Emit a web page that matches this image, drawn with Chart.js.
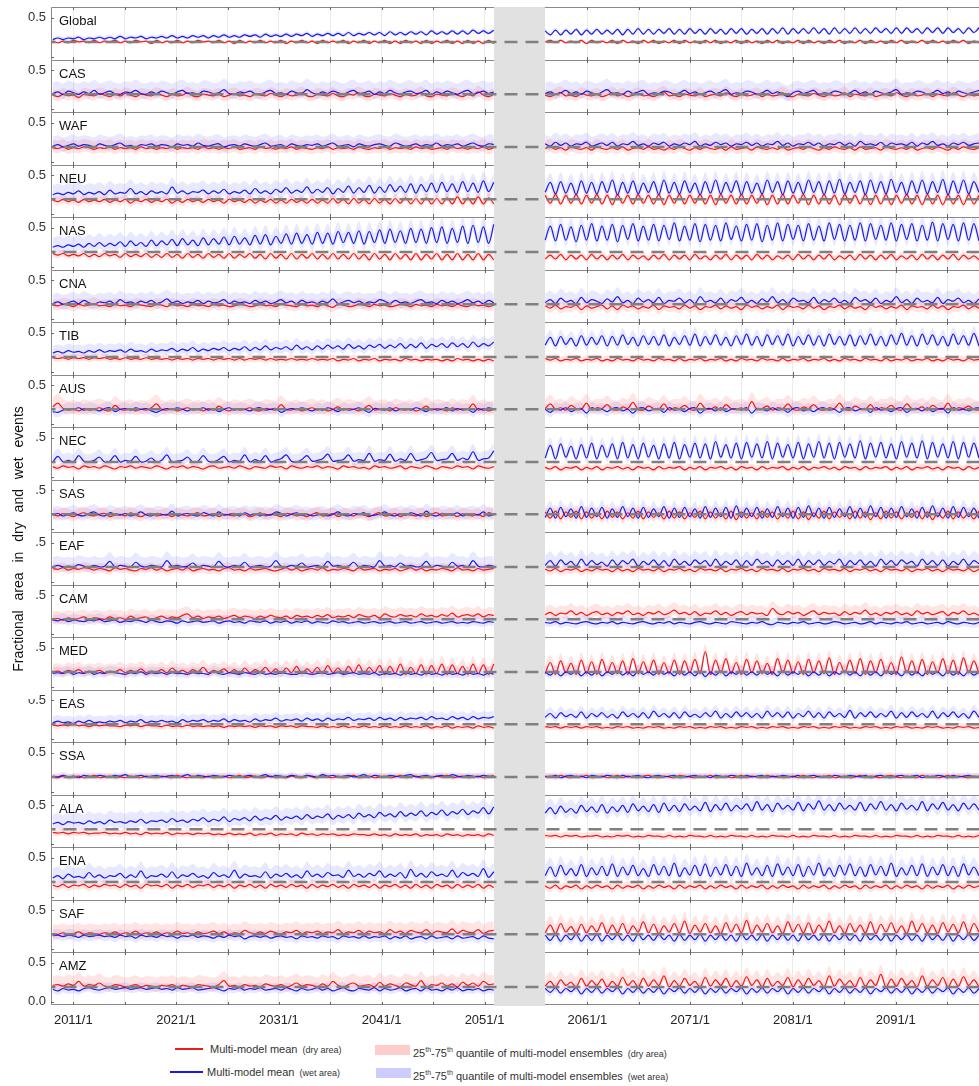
<!DOCTYPE html>
<html>
<head>
<meta charset="utf-8">
<script src="https://cdn.jsdelivr.net/npm/chart.js@4.4.1/dist/chart.umd.min.js"></script>
<style>
  body { margin: 0; background: #fff; width: 979px; height: 1086px; overflow: hidden; position: relative;
         font-family: 'Liberation Sans', Arial, Helvetica, sans-serif; color: #222; }
  .panel { position: absolute; left: 0; width: 979px; }
  .panel canvas { display: block; }
  .name { position: absolute; left: 59px; font-size: 13px; line-height: 15px; color: #111; }
  #ymask { position: absolute; left: 8px; top: 420px; width: 27px; height: 279px; background: #fff; }
  #ytitle { position: absolute; left: 18px; top: 539px; transform: translate(-50%, -50%) rotate(-90deg);
            white-space: nowrap; font-size: 14px; word-spacing: 6px; color: #111; }
  .lg { position: absolute; font-size: 11px; line-height: 13px; color: #333; white-space: nowrap; }
  .lg small { font-size: 9px; margin-left: 5px; }
  .lg sup { font-size: 7px; }
  .swl { position: absolute; height: 2px; }
  .swb { position: absolute; width: 35px; height: 10px; }
</style>
</head>
<body>
<div id="wrap"></div>
<div id="ymask"></div>
<div id="ytitle">Fractional area in dry and wet events</div>

<div class="swl" style="left:175px;top:1048px;width:28px;background:#f01818"></div>
<div class="lg" style="left:210px;top:1043px">Multi-model mean<small>(dry area)</small></div>
<div class="swb" style="left:375px;top:1045px;background:rgba(255,110,110,0.35)"></div>
<div class="lg" style="left:413px;top:1043px">25<sup>th</sup>-75<sup>th</sup> quantile of multi-model ensembles<small>(dry area)</small></div>

<div class="swl" style="left:170px;top:1071px;width:33px;background:#1a1ae6"></div>
<div class="lg" style="left:207px;top:1066px">Multi-model mean<small>(wet area)</small></div>
<div class="swb" style="left:376px;top:1068px;background:rgba(110,110,255,0.35)"></div>
<div class="lg" style="left:413px;top:1066px">25<sup>th</sup>-75<sup>th</sup> quantile of multi-model ensembles<small>(wet area)</small></div>

<script>
// values are fractional area in hundredths
// *_E: 2009-2051 segment, *_L: 2057-2099 segment (about two samples per year)
const REGIONS = ['Global','CAS','WAF','NEU','NAS','CNA','TIB','AUS','NEC','SAS','EAF','CAM','MED','EAS','SSA','ALA','ENA','SAF','AMZ'];

const X_TICKS = [2011,2016,2021,2026,2031,2036,2041,2046,2051,2056,2061,2066,2071,2076,2081,2086,2091,2096];
const X_LABELS = ['2011/1','','2021/1','','2031/1','','2041/1','','2051/1','','2061/1','','2071/1','','2081/1','','2091/1',''];
const Y_TICKS = [0, 0.5];

const EARLY_START = 2009.0, EARLY_END = 2051.9;
const LATE_START = 2056.9, LATE_END = 2099.1;
const GAP_START = 2051.92, GAP_END = 2056.88;
const DASH_LEVEL = 0.19;

const GLOBAL_DRY_E = [20,18,20,18,21,19,20,18,21,18,20,19,21,18,20,18,21,19,20,17,21,18,20,18,21,18,20,18,21,19,20,18,21,18,20,17,21,18,20,18,21,18,20,18,21,17,20,18,21,18,20,17,21,18,20,18,21,17,20,18,21,17,20,18,21,17,20,17,21,18,20,17,21,17,20,18,21,17,20,17,21,17,20,17,21,17];
const GLOBAL_WET_E = [22,24,22,24,23,25,22,24,23,25,23,25,23,26,23,25,24,26,23,25,24,26,24,27,24,26,24,27,25,27,24,27,25,28,25,27,25,28,26,28,25,29,26,28,26,29,26,29,27,30,26,29,27,30,27,30,27,31,27,30,28,31,28,31,27,32,28,31,28,32,29,32,28,33,29,32,29,33,29,33,29,34,30,33,30,34];
const GLOBAL_DRY_L = [19,21,18,21,18,20,18,21,17,21,18,20,18,21,17,21,18,20,17,21,18,21,17,20,18,21,17,21,18,20,17,21,18,21,17,20,18,21,17,21,18,20,17,21,18,21,17,20,18,21,17,21,18,20,17,21,18,21,17,20,18,21,17,21,18,20,17,21,18,21,17,20,18,21,17,21,18,20,17,21,18,21,17,20,18];
const GLOBAL_WET_L = [33,28,34,28,34,29,35,28,34,29,35,29,34,29,35,28,35,29,36,29,35,29,35,30,36,29,35,29,36,30,35,29,36,30,35,29,36,30,36,29,35,30,36,29,36,30,37,29,36,30,36,30,37,30,36,29,37,30,36,30,37,30,36,30,37,31,36,30,37,30,37,31,36,30,37,31,37,30,37,31,36,30,37,31,37];

const CAS_DRY_E = [18,16,19,17,18,15,19,18,17,20,18,16,19,17,20,18,16,19,18,17,20,18,16,19,17,18,21,17,16,19,18,17,19,16,18,20,17,18,16,19,18,17,20,18,16,19,17,18,21,17,16,19,18,17,20,17,16,19,18,21,17,16,19,18,17,20,18,16,19,17,18,21,17,16,19,18,17,20,18,16,19,17,22,18,16,19];
const CAS_WET_E = [20,22,19,23,21,19,22,20,24,19,21,23,20,19,22,21,24,20,19,22,20,23,21,19,22,24,20,21,19,23,22,20,21,25,20,19,22,21,23,20,19,22,24,20,21,19,23,21,20,25,21,19,22,20,23,21,19,22,24,20,21,23,19,22,20,24,21,19,22,23,20,21,24,19,22,20,23,21,19,22,24,20,21,23,20,22];
const CAS_DRY_L = [18,16,19,21,17,18,16,20,18,17,19,16,18,21,17,19,16,18,20,17,18,16,19,22,17,18,16,19,18,17,20,16,18,19,17,21,18,16,19,17,18,20,16,19,17,18,21,17,16,19,18,17,20,18,16,19,17,18,21,16,19,18,17,20,16,18,19,17,21,18,16,19,17,18,20,16,19,18,17,21,18,16,19,17,18];
const CAS_WET_L = [20,22,19,21,24,20,22,19,23,21,19,22,25,20,21,19,23,20,22,24,19,21,20,23,22,19,21,24,20,22,19,21,23,20,22,25,19,21,20,23,22,19,21,24,20,22,19,16,21,23,20,22,24,19,21,20,23,22,19,21,24,20,22,19,23,21,20,22,25,19,21,20,23,22,19,21,24,20,22,19,23,21,20,22,24];

const WAF_DRY_E = [18,17,19,16,18,17,19,18,16,18,17,19,16,18,17,18,16,19,17,18,16,18,17,19,16,18,17,18,16,19,17,18,16,18,17,19,16,17,18,16,19,17,18,16,18,17,19,16,18,17,16,18,17,19,16,18,17,18,16,19,17,16,18,17,19,16,18,17,18,16,19,17,18,16,17,18,16,19,17,18,16,18,17,19,16,18];
const WAF_WET_E = [20,22,19,21,23,20,22,21,19,23,21,20,22,24,20,21,19,22,21,23,20,22,21,19,23,21,22,20,24,21,20,22,23,19,21,22,20,23,21,20,22,24,20,21,22,19,23,21,20,22,21,23,20,22,24,20,21,22,19,23,21,20,22,23,21,20,24,22,20,21,23,20,22,21,24,20,22,21,23,20,22,24,21,20,23,22];
const WAF_DRY_L = [17,19,16,18,15,19,17,16,18,15,19,17,16,18,16,19,15,17,18,16,19,16,17,15,18,16,19,17,15,18,16,19,17,16,18,15,19,16,17,18,15,19,17,16,18,16,19,15,17,18,16,19,17,15,18,16,19,17,16,18,15,19,16,17,18,15,19,17,16,18,16,19,15,17,18,16,19,17,15,18,16,19,17,16,18];
const WAF_WET_L = [23,20,25,21,24,20,23,22,25,20,22,24,21,25,20,23,22,26,21,23,20,24,22,25,20,23,21,24,22,26,20,23,21,25,22,24,20,23,22,25,21,24,20,23,22,26,21,24,20,23,22,25,21,24,20,23,22,25,21,24,20,26,22,23,21,25,20,24,22,23,21,25,20,24,22,26,21,23,20,24,22,25,21,23,24];

const NEU_DRY_E = [18,16,19,16,18,15,19,16,18,16,19,15,18,16,19,14,18,16,19,15,18,16,19,14,18,15,19,16,18,15,19,16,18,14,19,16,18,15,19,14,18,15,19,14,18,14,19,15,18,14,19,14,18,14,20,14,19,13,20,14,19,13,20,14,19,13,20,14,21,13,20,13,21,13,20,13,21,13,22,13,21,13,22,13,21,13];
const NEU_WET_E = [25,27,25,28,26,30,25,28,26,29,25,31,26,28,27,33,26,29,25,30,27,29,26,35,27,30,26,29,28,31,26,30,27,32,26,29,27,31,26,33,27,30,26,32,28,34,27,31,28,35,27,32,28,34,26,33,28,36,27,34,28,37,27,35,28,38,29,36,28,39,27,38,29,40,28,41,29,39,28,42,29,40,28,43,29,41];
const NEU_DRY_L = [24,14,25,13,24,14,25,13,24,14,25,13,24,12,25,14,24,13,25,14,24,13,25,12,24,14,25,13,24,14,25,13,24,12,25,14,24,13,25,13,24,14,25,12,24,13,25,13,24,14,25,12,24,13,25,13,24,12,25,14,24,13,25,12,24,13,25,12,24,14,25,13,24,12,25,13,24,12,25,13,24,12,25,13,24];
const NEU_WET_L = [28,41,26,42,27,40,25,43,27,41,26,42,28,44,25,41,27,43,26,40,28,42,25,44,27,41,26,43,28,40,25,42,27,44,26,41,28,43,25,42,27,40,26,44,28,42,25,43,27,41,26,44,28,42,25,43,27,45,26,41,28,43,25,44,27,42,26,45,28,41,25,43,27,44,26,42,28,45,25,43,27,44,26,42,28];

const NAS_DRY_E = [17,15,17,14,16,14,17,13,16,13,17,14,16,12,17,13,16,13,17,12,16,12,17,12,16,11,17,12,16,11,17,12,16,11,17,11,16,12,17,11,16,10,17,11,16,10,17,10,16,11,17,10,16,10,17,10,16,10,17,10,16,9,17,10,16,9,17,10,16,9,17,9,16,10,17,9,16,9,17,9,16,9,17,9,16,9];
const NAS_WET_E = [25,27,25,28,26,29,25,30,26,31,26,30,27,32,26,33,27,31,26,34,27,33,28,35,27,36,28,34,27,37,28,36,29,38,28,39,29,37,28,40,29,41,28,39,30,42,29,43,30,41,29,44,30,43,29,45,31,44,30,46,29,45,31,47,30,48,31,46,30,49,31,48,30,50,31,51,30,49,31,52,30,53,31,51,30,54];
const NAS_DRY_L = [10,15,10,16,9,15,10,15,9,16,10,15,9,15,10,16,9,15,10,14,9,15,10,16,9,15,10,15,9,16,10,14,9,15,10,16,9,15,10,15,9,16,10,15,9,14,10,15,9,16,10,15,9,15,10,16,9,14,10,15,9,16,10,15,9,15,10,16,9,14,10,15,9,16,10,15,9,15,10,16,9,15,10,14,9];
const NAS_WET_L = [34,52,33,54,34,51,32,53,34,55,33,52,34,54,32,53,35,55,33,52,34,54,33,53,35,56,33,52,34,55,32,54,34,53,33,56,35,52,33,54,34,55,32,53,34,56,33,54,35,53,33,55,34,52,33,56,35,54,33,53,34,56,33,55,35,53,34,56,33,54,35,55,33,53,34,57,33,55,35,54,33,56,34,55,33];

const CNA_DRY_E = [18,17,19,18,16,19,17,18,20,17,18,16,19,17,18,16,19,18,17,16,19,18,16,19,17,18,16,19,17,18,16,19,17,18,16,17,19,18,16,17,19,17,18,16,19,18,17,16,19,17,18,16,19,17,15,19,18,16,17,19,18,16,19,17,18,16,17,19,18,16,19,17,18,16,19,17,18,16,19,17,16,19,17,18,16,18];
const CNA_WET_E = [20,22,19,21,23,20,24,21,19,22,21,23,20,25,21,22,20,23,21,24,20,22,26,21,23,20,22,21,24,20,23,21,22,25,20,23,21,22,20,24,21,23,20,22,25,21,23,20,24,21,22,20,23,21,26,20,22,24,21,23,20,22,21,25,23,20,24,21,22,20,23,25,21,22,20,24,21,23,20,22,25,21,23,20,24,21];
const CNA_DRY_L = [17,14,18,13,16,15,18,12,17,14,16,18,13,17,12,18,15,17,13,16,14,18,12,17,15,16,13,18,14,17,12,16,15,18,13,17,14,16,12,18,15,17,13,16,14,18,12,17,15,16,13,18,14,17,12,16,15,18,13,17,14,16,12,18,15,17,13,16,14,18,12,17,15,16,13,18,14,17,12,16,15,18,13,17,14];
const CNA_WET_L = [21,25,20,27,22,24,20,28,21,25,23,20,26,22,29,21,24,20,27,22,25,21,28,20,24,23,27,21,25,20,29,22,24,21,27,20,25,23,28,21,24,20,26,22,29,21,25,20,27,23,24,21,28,20,25,22,27,21,24,20,28,23,25,21,27,20,24,22,29,21,25,20,27,22,24,21,28,20,25,23,27,21,24,20,26];

const TIB_DRY_E = [18,17,18,16,18,17,18,16,18,17,18,16,17,16,18,16,17,16,18,16,17,16,17,15,17,16,17,15,17,16,17,15,17,16,17,15,17,15,17,16,17,15,17,15,16,15,17,15,16,15,17,15,16,15,17,14,16,15,17,14,16,15,17,14,16,15,16,14,17,15,16,14,16,15,16,14,16,14,17,15,16,14,16,14,16,14];
const TIB_WET_E = [24,26,24,27,25,26,24,27,25,28,25,27,26,28,25,29,26,27,25,29,26,28,27,30,26,29,27,31,26,29,27,30,28,31,27,30,28,32,27,31,28,33,28,31,29,32,28,34,29,32,28,33,29,34,30,33,29,35,30,33,29,34,31,35,30,34,31,36,30,35,31,37,30,35,32,36,31,37,32,36,31,38,32,36,33,38];
const TIB_DRY_L = [17,15,17,14,16,15,17,14,16,15,17,14,16,14,17,15,16,14,17,15,16,14,17,15,16,14,17,14,16,15,17,14,16,15,17,14,16,14,17,15,16,14,17,15,16,14,17,14,16,15,17,14,16,15,17,14,16,14,17,15,16,14,17,15,16,14,17,14,16,15,17,14,16,15,17,14,16,14,17,15,16,14,17,15,16];
const TIB_WET_L = [34,44,33,45,35,43,33,46,34,44,35,46,33,45,34,47,35,44,33,46,35,45,34,47,33,44,35,46,34,48,33,45,35,47,34,44,33,46,35,48,34,45,33,47,35,46,34,48,33,45,35,47,34,46,33,48,35,45,34,47,33,46,35,48,34,45,33,47,35,49,34,46,33,48,35,47,34,45,33,48,35,46,34,49,33];

const AUS_DRY_E = [22,27,20,18,19,17,20,18,19,21,18,17,24,19,18,20,17,19,18,21,26,19,18,20,17,19,21,18,19,17,20,18,23,19,17,20,18,19,21,18,17,20,19,18,25,19,18,20,17,19,21,18,20,17,19,22,18,20,19,17,20,24,18,19,20,17,21,19,18,20,17,19,23,18,20,19,17,21,18,20,19,26,18,20,17,19];
const AUS_WET_E = [16,15,18,20,19,21,18,20,19,17,20,21,16,19,20,18,21,19,20,17,15,18,20,19,21,19,17,20,19,21,18,20,16,19,21,18,20,19,17,20,21,18,19,20,15,18,20,19,21,19,17,20,18,21,19,16,20,18,19,21,18,15,20,19,18,21,17,19,20,18,21,19,16,20,18,19,21,17,20,18,19,15,20,18,21,19];
const AUS_DRY_L = [20,26,19,21,18,24,20,19,27,18,21,20,25,19,18,22,20,28,19,18,23,20,19,26,18,21,20,24,19,18,27,20,19,22,18,25,20,19,21,18,29,19,20,23,18,21,20,26,19,18,22,20,25,19,18,21,20,27,19,18,23,20,19,25,18,21,20,24,19,18,26,20,19,22,18,24,20,19,27,18,21,20,23,19,18];
const AUS_WET_L = [19,15,20,18,21,16,19,20,14,21,18,19,16,20,21,17,19,14,20,21,17,19,20,15,21,18,19,16,20,21,14,19,20,17,21,16,19,20,18,21,14,20,19,17,21,18,19,15,20,21,17,19,16,20,21,18,19,15,20,21,17,19,20,15,21,18,19,16,20,21,15,19,20,17,21,16,19,20,14,21,18,19,17,20,21];

const NEC_DRY_E = [13,11,14,12,13,10,14,12,13,11,14,12,10,13,12,14,11,13,12,11,14,12,10,13,12,14,11,13,12,10,13,14,11,12,13,11,14,12,10,13,12,11,14,12,13,10,14,12,11,13,12,14,11,13,12,10,14,12,13,11,12,10,14,12,13,11,12,14,10,13,12,11,14,12,10,13,12,11,14,12,13,10,14,12,11,13];
const NEC_WET_E = [19,26,19,21,19,27,20,19,21,25,19,20,27,19,21,20,26,19,20,24,19,21,28,19,20,21,25,19,20,27,20,19,22,26,19,21,20,28,19,22,20,27,19,21,23,28,20,19,22,27,20,21,23,29,20,21,22,28,20,22,21,30,20,22,21,29,20,23,21,30,21,22,24,31,21,22,23,30,21,24,22,32,21,23,24,33];
const NEC_DRY_L = [12,10,13,9,12,11,13,9,12,10,13,9,12,11,13,10,12,9,13,11,12,9,13,10,12,11,13,9,12,10,13,9,12,11,13,10,12,9,13,11,12,9,13,10,12,11,13,9,12,10,13,9,12,11,13,10,12,9,13,11,12,9,13,10,12,11,13,9,12,10,13,9,12,11,13,10,12,9,13,11,12,9,13,10,12];
const NEC_WET_L = [24,40,23,42,25,39,23,41,24,43,23,40,25,42,23,44,24,41,23,43,25,40,23,42,24,44,23,41,25,43,24,42,23,45,25,41,24,43,23,44,25,42,24,45,23,43,25,41,24,44,23,42,25,45,24,43,23,44,25,42,24,46,23,43,25,44,24,42,23,45,25,43,24,46,23,44,25,42,24,45,23,44,25,43,24];

const SAS_DRY_E = [19,17,20,18,16,19,21,18,17,19,20,16,18,19,17,21,18,16,19,20,17,18,19,16,20,18,17,19,21,17,18,20,16,19,18,17,20,19,16,18,21,17,19,18,16,20,19,17,18,16,19,21,17,18,20,16,19,18,17,20,18,16,19,21,17,18,20,16,19,18,17,20,16,19,21,17,18,19,16,20,18,17,19,16,21,18];
const SAS_WET_E = [18,20,17,19,21,18,17,20,22,18,17,21,19,18,20,17,19,22,18,17,20,19,18,23,17,19,20,18,17,21,19,17,22,18,19,20,17,21,18,20,17,19,18,22,20,17,19,21,18,19,17,18,20,17,19,22,18,17,20,19,21,17,18,19,22,18,17,20,18,21,19,17,23,18,17,20,19,18,21,17,19,20,18,22,17,19];
const SAS_DRY_L = [22,14,23,13,22,15,23,13,22,14,21,13,23,15,22,13,21,14,23,13,22,15,21,13,23,14,22,13,21,15,23,13,22,14,21,13,23,12,22,14,21,13,23,15,22,13,21,14,23,13,22,12,21,14,23,13,22,15,21,13,23,14,22,12,21,13,23,14,22,13,21,15,23,13,22,12,21,14,23,13,22,14,21,13,23];
const SAS_WET_L = [15,27,14,28,16,26,14,29,15,27,16,28,14,26,15,29,16,27,14,28,15,26,16,29,14,27,15,28,16,26,14,29,15,27,16,28,14,30,15,27,16,28,14,26,15,29,16,27,14,28,15,30,16,27,14,28,15,26,16,29,14,27,15,30,16,28,14,27,15,29,16,26,14,28,15,30,16,27,14,29,15,28,16,27,14];

const EAF_DRY_E = [17,16,18,15,17,16,18,17,15,17,16,14,18,16,17,15,14,17,16,18,15,17,14,16,17,15,18,14,16,17,15,16,14,17,18,15,16,14,17,15,16,17,15,14,16,18,15,17,14,16,17,15,18,14,16,15,17,16,14,18,15,16,17,14,16,15,17,14,16,18,15,17,14,16,15,17,16,14,18,15,16,14,17,15,16,17];
const EAF_WET_E = [19,21,19,20,19,22,20,19,21,19,20,26,19,21,20,19,25,20,19,21,20,19,27,20,21,19,20,24,19,21,20,19,26,20,19,21,20,25,19,20,21,19,20,27,20,19,21,20,24,19,20,21,19,26,20,21,19,20,25,19,21,20,19,27,20,21,19,24,20,21,19,20,26,19,21,20,19,25,20,21,19,27,20,19,21,20];
const EAF_DRY_L = [16,14,17,13,16,15,17,13,16,14,17,15,16,13,17,14,16,13,17,15,16,14,17,13,16,15,17,14,16,13,17,15,16,14,17,13,16,15,17,14,16,13,17,15,16,14,17,13,16,15,17,14,16,13,17,15,16,14,17,13,16,15,17,14,16,13,17,15,16,14,17,13,16,15,17,14,16,13,17,15,16,14,17,13,16];
const EAF_WET_L = [21,27,20,28,22,26,20,29,21,27,22,25,20,28,21,27,23,29,20,26,22,28,21,27,20,29,22,26,21,28,23,27,20,29,21,26,22,28,20,27,21,29,23,26,20,28,22,27,21,29,20,27,22,28,21,26,23,29,20,27,22,28,21,26,20,29,22,27,21,28,23,26,20,29,22,27,21,28,20,26,22,29,21,27,23];

const CAM_DRY_E = [19,20,18,21,19,20,22,19,21,20,19,22,20,21,19,23,20,21,22,19,21,23,20,22,21,24,26,21,23,20,22,21,23,20,22,24,21,23,22,20,23,21,24,22,21,23,20,24,22,23,21,24,22,25,21,23,22,24,21,25,23,22,24,21,26,23,22,25,23,24,22,26,23,24,22,25,23,27,22,24,25,23,26,22,25,24];
const CAM_WET_E = [18,17,19,16,18,17,16,18,17,19,16,17,18,15,17,16,18,17,15,18,16,15,17,16,14,17,15,16,17,15,16,17,14,16,17,15,16,14,17,16,15,17,14,16,15,17,14,16,15,17,14,16,15,14,17,15,16,14,15,16,14,15,16,14,15,16,14,15,16,14,15,16,14,15,16,14,15,16,14,15,14,16,15,14,16,15];
const CAM_DRY_L = [25,28,24,27,26,30,25,28,24,27,29,25,27,24,28,26,30,25,27,24,28,26,29,25,27,31,26,28,25,29,24,27,26,30,25,28,24,27,29,25,28,26,27,24,33,27,25,29,26,28,24,27,30,25,28,26,27,24,29,25,28,26,31,25,27,24,28,26,29,25,27,24,30,26,28,25,27,29,24,28,26,30,25,27,24];
const CAM_WET_L = [15,14,16,13,15,14,13,15,16,14,13,15,14,16,13,15,14,13,15,16,14,13,15,14,16,13,15,14,13,15,16,14,13,15,14,13,16,15,14,13,15,14,16,13,12,15,14,13,15,14,16,13,14,15,13,14,16,15,13,14,15,13,14,16,13,15,14,13,15,14,16,13,14,15,13,14,15,13,16,14,13,15,14,13,15];

const MED_DRY_E = [19,20,18,21,19,22,18,20,19,21,18,20,19,22,18,21,19,23,18,20,19,22,18,24,19,21,18,22,19,25,18,21,19,23,18,22,17,24,18,22,19,25,18,23,17,24,18,26,17,23,18,25,17,27,18,24,17,26,18,28,17,25,18,27,16,26,17,29,16,25,17,28,16,27,17,29,16,28,17,26,16,29,17,28,16,29];
const MED_WET_E = [17,18,17,19,16,18,17,19,16,18,17,19,18,17,16,18,17,19,16,18,17,18,16,18,17,17,16,18,17,17,16,19,17,16,18,17,16,18,17,16,18,16,17,16,18,17,16,16,18,17,16,17,18,16,17,18,16,17,18,16,17,16,18,15,17,16,17,15,18,16,17,15,18,16,17,15,18,16,17,15,18,16,17,15,18,16];
const MED_DRY_L = [17,31,16,33,18,30,16,34,17,32,16,35,18,31,17,33,16,36,17,32,18,34,16,31,17,34,16,33,18,35,17,45,16,34,18,36,17,31,16,35,18,33,17,30,16,36,18,34,17,32,16,35,18,33,17,37,16,31,18,34,17,36,16,33,18,35,17,31,16,38,18,33,17,35,16,32,18,36,17,34,16,37,18,33,17];
const MED_WET_L = [19,15,20,14,19,16,20,14,19,15,20,14,19,16,20,15,19,14,20,16,19,15,20,16,19,14,20,15,19,14,20,13,19,15,20,14,19,16,20,15,19,15,20,16,19,14,20,15,19,16,20,14,19,15,20,14,19,16,20,15,19,14,20,15,19,14,20,16,19,14,20,15,19,14,20,16,19,14,20,15,19,14,20,15,19];

const EAS_DRY_E = [18,17,18,17,19,17,18,16,18,17,18,17,17,16,18,17,18,16,18,17,17,16,18,16,17,16,18,16,17,16,17,16,17,15,17,16,17,16,17,15,17,16,17,15,17,16,17,15,17,16,16,15,17,15,16,15,17,15,16,15,17,15,16,15,17,15,16,15,17,15,16,15,17,14,16,15,17,14,16,15,16,14,17,15,16,14];
const EAS_WET_E = [21,23,21,22,20,23,21,24,21,22,21,23,22,24,21,23,22,25,21,23,22,24,22,23,21,25,22,24,23,25,22,24,23,26,22,25,23,24,22,26,23,25,24,27,23,25,24,26,23,27,24,26,23,27,24,26,25,28,24,26,25,27,24,28,25,27,24,28,25,27,26,28,25,29,26,27,25,29,26,28,25,29,26,28,27,29];
const EAS_DRY_L = [16,15,16,14,16,15,16,14,16,15,16,14,15,14,16,15,16,14,15,14,16,15,16,14,15,14,16,15,16,14,15,14,16,15,16,14,15,14,16,15,16,14,15,14,16,15,16,14,15,14,16,15,16,14,15,14,16,15,16,14,15,14,16,15,16,14,15,14,16,15,16,14,15,14,16,15,16,14,15,14,16,15,16,14,15];
const EAS_WET_L = [28,33,27,34,29,32,28,35,27,33,29,34,28,32,27,35,29,33,28,34,27,36,29,33,28,34,27,35,29,32,28,34,29,36,27,33,28,35,29,34,28,33,27,36,29,34,28,35,27,33,29,36,28,34,27,35,29,33,28,37,27,34,29,35,28,33,29,36,27,34,28,35,29,33,28,36,27,34,29,35,28,33,27,36,28];

const SSA_DRY_E = [19,18,20,18,19,20,18,19,21,18,19,20,18,19,18,20,19,18,20,19,18,20,19,18,21,19,18,20,19,18,20,18,19,20,18,19,21,18,19,20,18,19,20,18,19,18,20,19,18,21,19,18,20,19,18,20,18,19,21,18,19,20,18,19,20,18,19,21,18,19,20,18,19,18,20,19,21,18,19,20,18,19,20,18,19,21];
const SSA_WET_E = [20,19,21,19,20,18,21,20,19,21,20,19,21,20,22,19,20,21,19,20,21,19,20,21,19,20,22,19,21,20,19,21,20,19,21,20,19,20,21,19,20,22,19,21,20,19,21,20,19,21,20,19,22,20,21,19,20,21,19,20,22,19,21,20,19,21,20,19,21,22,19,20,21,19,20,21,19,22,20,19,21,20,19,21,20,19];
const SSA_DRY_L = [19,20,18,21,19,18,20,19,21,18,19,20,18,19,21,18,20,19,18,20,21,19,18,20,19,18,21,20,19,18,20,19,21,18,19,20,18,19,21,18,20,19,18,21,19,20,18,19,20,18,21,19,18,20,19,21,18,19,20,18,19,21,18,20,19,18,20,21,19,18,20,19,18,21,19,20,18,19,21,18,20,19,18,20,19];
const SSA_WET_L = [20,19,21,18,20,21,19,20,18,21,20,19,21,20,18,21,19,20,21,19,18,20,21,19,20,21,18,19,20,21,19,20,18,21,20,19,21,20,18,21,19,20,21,18,20,19,21,20,19,21,18,20,21,19,20,18,21,20,19,21,20,19,21,18,20,21,19,18,20,21,19,20,21,18,20,19,21,20,18,21,19,20,21,19,20];

const ALA_DRY_E = [15,14,15,13,15,14,15,13,14,14,15,13,14,13,15,13,14,12,15,13,14,13,15,12,14,13,14,12,14,13,14,12,13,12,14,12,13,12,14,11,13,12,14,11,13,12,13,11,14,12,13,11,13,12,13,11,12,11,13,12,12,11,13,11,12,10,13,11,12,11,13,10,12,11,12,10,13,11,12,10,12,11,12,10,13,11];
const ALA_WET_E = [26,28,25,29,27,28,26,30,27,29,26,31,28,29,27,30,28,32,27,30,29,31,28,33,29,31,28,32,30,34,29,32,30,35,29,33,31,34,30,36,31,34,32,37,31,35,33,36,32,38,33,36,34,39,32,37,34,38,33,40,35,38,34,41,36,39,35,42,36,40,37,43,36,41,38,44,37,42,39,45,38,43,40,47,39,48];
const ALA_DRY_L = [11,10,11,9,11,10,11,9,10,10,11,9,10,9,11,10,11,9,10,9,11,10,10,9,11,9,10,9,11,10,10,9,11,9,10,9,11,10,10,9,11,9,10,9,11,10,10,9,11,9,10,9,11,10,10,9,11,9,10,9,11,10,10,9,11,9,10,9,11,10,10,9,11,9,10,9,11,10,10,9,11,9,10,9,11];
const ALA_WET_L = [40,47,39,49,41,46,40,50,42,48,41,51,40,48,42,50,41,52,43,49,42,51,41,53,43,50,42,52,44,49,43,54,42,51,44,53,43,50,45,52,43,55,44,51,42,53,45,50,44,54,43,52,45,56,44,51,43,53,45,50,44,54,43,52,45,55,44,51,43,53,45,50,44,55,43,52,45,54,44,51,43,53,45,52,44];

const ENA_DRY_E = [15,13,16,12,15,14,16,12,15,13,16,14,15,12,16,13,15,11,16,14,15,13,16,11,15,13,16,12,15,14,16,12,15,13,16,11,15,13,16,12,15,11,16,13,15,12,16,13,15,11,16,12,15,13,16,12,15,11,16,13,15,12,16,11,15,13,16,12,15,11,16,12,15,11,16,13,15,11,16,12,15,12,16,11,15,12];
const ENA_WET_E = [24,27,23,29,25,26,24,31,25,28,24,27,26,30,24,28,25,33,24,27,26,29,25,32,24,28,26,30,25,27,24,31,26,28,25,34,24,29,26,27,25,32,24,29,26,30,25,28,24,33,26,29,25,31,27,28,25,34,26,29,25,30,27,33,25,29,26,31,24,35,26,30,25,32,27,29,26,34,25,31,27,30,26,36,25,32];
const ENA_DRY_L = [14,11,15,10,14,12,15,10,14,11,15,12,14,10,15,11,14,12,15,10,14,11,15,12,14,10,15,11,14,12,15,10,14,11,15,12,14,10,15,11,14,12,15,10,14,11,15,12,14,10,15,11,14,12,15,10,14,11,15,12,14,10,15,11,14,12,15,10,14,11,15,12,14,10,15,11,14,12,15,10,14,11,15,12,14];
const ENA_WET_L = [27,38,26,40,28,36,27,41,26,37,28,39,27,42,26,38,28,40,27,36,26,41,28,39,27,43,26,37,28,40,27,42,26,38,28,41,27,39,26,43,28,37,27,40,26,42,28,38,27,41,26,39,28,43,27,37,26,40,28,42,27,38,26,41,28,39,27,43,26,37,28,40,27,42,26,38,28,41,27,39,26,42,28,38,27];

const SAF_DRY_E = [20,19,21,19,20,22,19,21,20,19,21,20,22,19,21,20,23,19,21,20,22,19,21,20,23,20,21,19,22,20,21,23,20,22,19,21,20,24,21,20,22,20,23,21,20,22,21,24,20,22,21,23,20,22,21,25,20,22,21,24,20,23,21,22,20,25,21,23,20,24,22,21,25,20,23,22,21,26,20,24,22,21,25,20,23,24];
const SAF_WET_E = [17,18,16,18,17,15,18,16,17,18,16,17,15,18,16,17,14,18,16,17,15,18,16,17,14,17,16,18,15,17,16,14,17,15,18,16,17,13,16,17,15,17,14,16,17,15,16,13,17,15,16,14,17,15,16,13,17,15,16,14,17,14,16,15,17,13,16,14,17,13,15,16,13,17,14,15,16,13,17,14,15,16,13,17,14,13];
const SAF_DRY_L = [21,31,20,33,22,29,20,32,21,30,22,34,20,31,21,33,20,30,22,35,21,32,20,30,22,33,21,36,20,31,22,33,21,30,20,34,22,32,21,37,20,31,22,33,21,30,20,35,22,32,21,34,20,31,22,36,21,30,20,33,22,31,21,35,20,32,22,34,21,30,20,36,22,33,21,31,20,34,22,32,21,35,20,33,22];
const SAF_WET_L = [18,11,19,10,18,12,19,10,18,11,19,10,18,12,19,11,18,10,19,12,18,11,19,12,18,10,19,11,18,12,19,10,18,12,19,11,18,10,19,12,18,11,19,10,18,12,19,11,18,10,19,12,18,11,19,10,18,12,19,11,18,10,19,12,18,11,19,10,18,12,19,11,18,10,19,12,18,11,19,10,18,12,19,11,18];

const AMZ_DRY_E = [21,22,20,23,21,26,20,22,21,24,20,19,22,21,19,20,22,19,21,20,19,21,20,22,19,21,20,19,22,21,20,19,22,27,20,21,19,22,20,21,19,23,21,20,22,19,21,24,20,22,21,19,23,20,26,21,19,22,24,20,21,22,19,25,20,23,21,19,24,22,20,27,19,22,21,24,20,23,19,25,21,24,20,26,22,23];
const AMZ_WET_E = [16,14,17,15,16,14,17,18,16,15,17,18,16,17,18,16,17,18,16,17,18,16,17,15,18,16,17,18,15,16,17,18,16,14,17,16,18,15,17,16,18,15,16,17,15,18,16,14,17,15,16,18,15,17,14,16,18,15,14,17,16,15,18,14,17,15,16,18,14,16,17,14,18,15,16,14,17,15,18,14,16,15,17,14,16,15];
const AMZ_DRY_L = [20,26,19,28,21,25,19,30,20,27,21,29,19,26,20,31,21,27,19,30,20,28,21,33,19,27,20,30,21,26,19,31,20,28,21,30,19,27,20,32,21,28,19,30,20,26,21,31,19,28,20,30,21,27,19,33,20,29,21,27,19,31,20,28,21,35,19,29,20,30,21,27,19,33,20,28,21,31,19,29,20,32,21,28,19];
const AMZ_WET_L = [17,12,18,11,17,13,18,10,17,12,18,11,17,13,18,10,17,12,18,11,17,12,18,10,17,13,18,11,17,12,18,10,17,12,18,11,17,13,18,10,17,12,18,11,17,13,18,10,17,12,18,11,17,13,18,10,17,12,18,11,17,12,18,10,17,13,18,11,17,12,18,10,17,12,18,11,17,13,18,10,17,12,18,11,17];

const DRY_E = [GLOBAL_DRY_E,CAS_DRY_E,WAF_DRY_E,NEU_DRY_E,NAS_DRY_E,CNA_DRY_E,TIB_DRY_E,AUS_DRY_E,NEC_DRY_E,SAS_DRY_E,EAF_DRY_E,CAM_DRY_E,MED_DRY_E,EAS_DRY_E,SSA_DRY_E,ALA_DRY_E,ENA_DRY_E,SAF_DRY_E,AMZ_DRY_E];
const WET_E = [GLOBAL_WET_E,CAS_WET_E,WAF_WET_E,NEU_WET_E,NAS_WET_E,CNA_WET_E,TIB_WET_E,AUS_WET_E,NEC_WET_E,SAS_WET_E,EAF_WET_E,CAM_WET_E,MED_WET_E,EAS_WET_E,SSA_WET_E,ALA_WET_E,ENA_WET_E,SAF_WET_E,AMZ_WET_E];
const DRY_L = [GLOBAL_DRY_L,CAS_DRY_L,WAF_DRY_L,NEU_DRY_L,NAS_DRY_L,CNA_DRY_L,TIB_DRY_L,AUS_DRY_L,NEC_DRY_L,SAS_DRY_L,EAF_DRY_L,CAM_DRY_L,MED_DRY_L,EAS_DRY_L,SSA_DRY_L,ALA_DRY_L,ENA_DRY_L,SAF_DRY_L,AMZ_DRY_L];
const WET_L = [GLOBAL_WET_L,CAS_WET_L,WAF_WET_L,NEU_WET_L,NAS_WET_L,CNA_WET_L,TIB_WET_L,AUS_WET_L,NEC_WET_L,SAS_WET_L,EAF_WET_L,CAM_WET_L,MED_WET_L,EAS_WET_L,SSA_WET_L,ALA_WET_L,ENA_WET_L,SAF_WET_L,AMZ_WET_L];

// 25th-75th quantile spread around the mean, [below, above], hundredths
const DRY_SPREAD = [[2,2],[6,8],[6,10],[5,6],[4,5],[6,8],[4,5],[6,12],[4,5],[6,8],[5,7],[6,10],[5,10],[4,5],[3,4],[4,5],[5,6],[6,12],[6,12]];
const WET_SPREAD = [[2,3],[6,14],[6,12],[8,12],[8,12],[7,12],[6,9],[6,8],[6,10],[6,10],[6,12],[5,8],[5,8],[5,8],[3,4],[8,12],[8,12],[6,8],[5,7]];

// layout
const PANEL_TOP = 7, PANEL_H = 52.5, X_AXIS_H = 30;
const RED = '#f01818', BLUE = '#1a1ae6';
const RED_FILL = 'rgba(255,90,90,0.16)', BLUE_FILL = 'rgba(90,90,255,0.14)';

Chart.defaults.font.family = "'Liberation Sans', Arial, Helvetica, sans-serif";

function toPoints(values, start, end, shift) {
  const step = (end - start) / (values.length - 1);
  return values.map((v, k) => ({ x: start + k * step, y: (v + shift) / 100 }));
}

const panelFrame = {
  id: 'panelFrame',
  beforeDatasetsDraw(chart, args, opts) {
    const { ctx, chartArea: a, scales: { x, y } } = chart;
    ctx.save();
    ctx.strokeStyle = '#8a8a8a';
    ctx.lineWidth = 1;
    ctx.beginPath();
    ctx.moveTo(a.left + 0.5, a.bottom);
    ctx.lineTo(a.left + 0.5, a.top + 0.5);
    ctx.lineTo(a.right, a.top + 0.5);
    if (opts.last) { ctx.moveTo(a.left, a.bottom - 0.5); ctx.lineTo(a.right, a.bottom - 0.5); }
    ctx.stroke();
    // inward tick marks
    ctx.strokeStyle = '#666';
    ctx.beginPath();
    X_TICKS.forEach(t => {
      const px = Math.round(x.getPixelForValue(t)) + 0.5;
      ctx.moveTo(px, a.top); ctx.lineTo(px, a.top + 3);
      ctx.moveTo(px, a.bottom); ctx.lineTo(px, a.bottom - 3);
    });
    Y_TICKS.forEach(v => {
      const py = Math.round(y.getPixelForValue(v)) + 0.5;
      ctx.moveTo(a.left, py); ctx.lineTo(a.left + 3, py);
    });
    ctx.stroke();
    // gap between the two periods
    const g0 = x.getPixelForValue(GAP_START), g1 = x.getPixelForValue(GAP_END);
    ctx.fillStyle = '#e1e1e1';
    ctx.fillRect(g0, a.top - 1, g1 - g0, a.bottom - a.top + 2);
    ctx.restore();
  }
};

function buildPanel(i) {
  const top = Math.round(PANEL_TOP + PANEL_H * i);
  const bottom = Math.round(PANEL_TOP + PANEL_H * (i + 1));
  const isLast = i === REGIONS.length - 1;

  const div = document.createElement('div');
  div.className = 'panel';
  div.style.top = top + 'px';
  div.style.height = (bottom - top + (isLast ? X_AXIS_H : 0)) + 'px';
  const canvas = document.createElement('canvas');
  div.appendChild(canvas);
  document.getElementById('wrap').appendChild(div);

  const name = document.createElement('div');
  name.className = 'name';
  name.style.top = (top + 6) + 'px';
  name.textContent = REGIONS[i];
  document.getElementById('wrap').appendChild(name);

  const datasets = [];
  const groups = [
    { e: DRY_E[i], l: DRY_L[i], s: DRY_SPREAD[i], fill: RED_FILL },
    { e: WET_E[i], l: WET_L[i], s: WET_SPREAD[i], fill: BLUE_FILL }
  ];
  const segs = g => [[g.e, EARLY_START, EARLY_END], [g.l, LATE_START, LATE_END]];
  groups.forEach(g => {
    segs(g).forEach(([vals, a, b]) => {
      datasets.push({ data: toPoints(vals, a, b, -g.s[0]), borderWidth: 0, borderColor: 'transparent',
                      pointRadius: 0, fill: false, tension: 0.3, order: 10 });
      datasets.push({ data: toPoints(vals, a, b, g.s[1]), borderWidth: 0, borderColor: 'transparent',
                      backgroundColor: g.fill, pointRadius: 0, fill: '-1', tension: 0.3, order: 10 });
    });
  });
  [[groups[0], RED, 3], [groups[1], BLUE, 2]].forEach(([g, col, ord]) => {
    segs(g).forEach(([vals, a, b]) => {
      datasets.push({ data: toPoints(vals, a, b, 0), borderColor: col, borderWidth: 1.2,
                      pointRadius: 0, fill: false, tension: 0.35, order: ord });
    });
  });
  datasets.push({ data: [{ x: 2008, y: DASH_LEVEL }, { x: 2100, y: DASH_LEVEL }], borderColor: '#808080',
                  borderWidth: 2.6, borderDash: [13, 8], pointRadius: 0, fill: false, order: 1 });

  new Chart(canvas, {
    type: 'line',
    data: { datasets },
    plugins: [panelFrame],
    options: {
      responsive: true,
      maintainAspectRatio: false,
      animation: false,
      layout: { padding: 0 },
      plugins: { legend: { display: false }, tooltip: { enabled: false }, panelFrame: { last: isLast } },
      scales: {
        x: {
          type: 'linear', min: 2008.83, max: 2099.1,
          afterBuildTicks: s => { s.ticks = X_TICKS.map(v => ({ value: v })); },
          afterFit: s => { s.height = isLast ? X_AXIS_H : 0; s.paddingLeft = 0; s.paddingRight = 0; },
          grid: { color: '#ebebeb', drawTicks: false },
          border: { display: false },
          ticks: {
            display: isLast, autoSkip: false, maxRotation: 0, padding: 8,
            color: '#222', font: { size: 13 },
            callback: (v, idx) => X_LABELS[idx]
          }
        },
        y: {
          min: -0.04, max: 0.635,
          afterBuildTicks: s => { s.ticks = Y_TICKS.map(v => ({ value: v })); },
          afterFit: s => { s.width = 51; s.paddingTop = 0; s.paddingBottom = 0; },
          grid: { display: false, drawTicks: false },
          border: { display: false },
          ticks: {
            padding: 5, color: '#333', font: { size: 13 },
            callback: v => v === 0.5 ? '0.5' : (isLast ? '0.0' : '')
          }
        }
      }
    }
  });
}

REGIONS.forEach((r, i) => buildPanel(i));
</script>
</body>
</html>
